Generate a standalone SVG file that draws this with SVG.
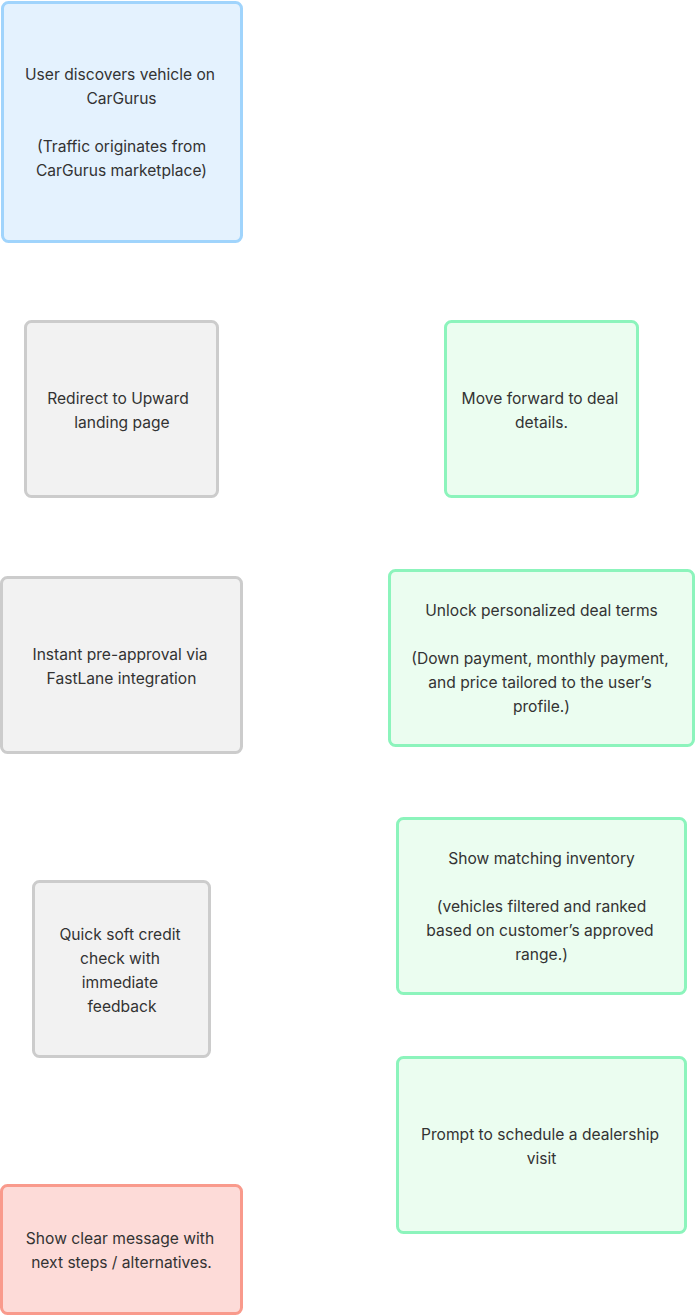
<svg xmlns="http://www.w3.org/2000/svg" width="696" height="1316" viewBox="0 0 696 1316">
<style>
  .n rect { stroke-width: 3; }
  .blue rect { fill: #e4f2fe; stroke: #a0d4fc; }
  .gray rect { fill: #f2f2f2; stroke: #cccccc; }
  .green rect { fill: #ebfdf0; stroke: #8cf4bc; }
  .red rect { fill: #fddbd8; stroke: #f99a8c; }
  text { font-family: Inter, "Liberation Sans", sans-serif; font-size: 15.6px; fill: #333333; text-anchor: middle; }
</style>
<rect x="0" y="0" width="696" height="1316" fill="#ffffff"/>
<g id="connectors"></g>
<g id="n1" class="n blue">
  <rect x="2.5" y="2.5" width="239" height="239" rx="6"/>
  <text x="120" y="79.5">User discovers vehicle on</text>
  <text x="121.5" y="103.5">CarGurus</text>
  <text x="121.5" y="151.5">(Traffic originates from</text>
  <text x="121.5" y="175.5">CarGurus marketplace)</text>
</g>
<g id="n2" class="n gray">
  <rect x="25.5" y="321.5" width="192" height="175" rx="6"/>
  <text x="118" y="403.5">Redirect to Upward</text>
  <text x="122" y="427.5">landing page</text>
</g>
<g id="n3" class="n green">
  <rect x="445.5" y="321.5" width="192" height="175" rx="6"/>
  <text x="540" y="403.5">Move forward to deal</text>
  <text x="541.5" y="427.5">details.</text>
</g>
<g id="n4" class="n gray">
  <rect x="1.5" y="577.5" width="240" height="175" rx="6"/>
  <text x="120" y="659.5">Instant pre-approval via</text>
  <text x="121.5" y="683.5">FastLane integration</text>
</g>
<g id="n5" class="n green">
  <rect x="389.5" y="570.5" width="304" height="175" rx="6"/>
  <text x="541.5" y="615.5">Unlock personalized deal terms</text>
  <text x="540" y="663.5">(Down payment, monthly payment,</text>
  <text x="540" y="687.5">and price tailored to the user’s</text>
  <text x="541.5" y="711.5">profile.)</text>
</g>
<g id="n6" class="n green">
  <rect x="397.5" y="818.5" width="288" height="175" rx="6"/>
  <text x="541.5" y="863.5">Show matching inventory</text>
  <text x="541.5" y="911.5">(vehicles filtered and ranked</text>
  <text x="540" y="935.5">based on customer’s approved</text>
  <text x="541.5" y="959.5">range.)</text>
</g>
<g id="n7" class="n gray">
  <rect x="33.5" y="881.5" width="176" height="175" rx="6"/>
  <text x="120" y="939.5">Quick soft credit</text>
  <text x="120" y="963.5">check with</text>
  <text x="120" y="987.5">immediate</text>
  <text x="122" y="1011.5">feedback</text>
</g>
<g id="n8" class="n green">
  <rect x="397.5" y="1057.5" width="288" height="175" rx="6"/>
  <text x="540" y="1139.5">Prompt to schedule a dealership</text>
  <text x="541.5" y="1163.5">visit</text>
</g>
<g id="n9" class="n red">
  <rect x="1.5" y="1185.5" width="240" height="128" rx="6"/>
  <text x="120" y="1243.5">Show clear message with</text>
  <text x="121.5" y="1267.5">next steps / alternatives.</text>
</g>
</svg>
